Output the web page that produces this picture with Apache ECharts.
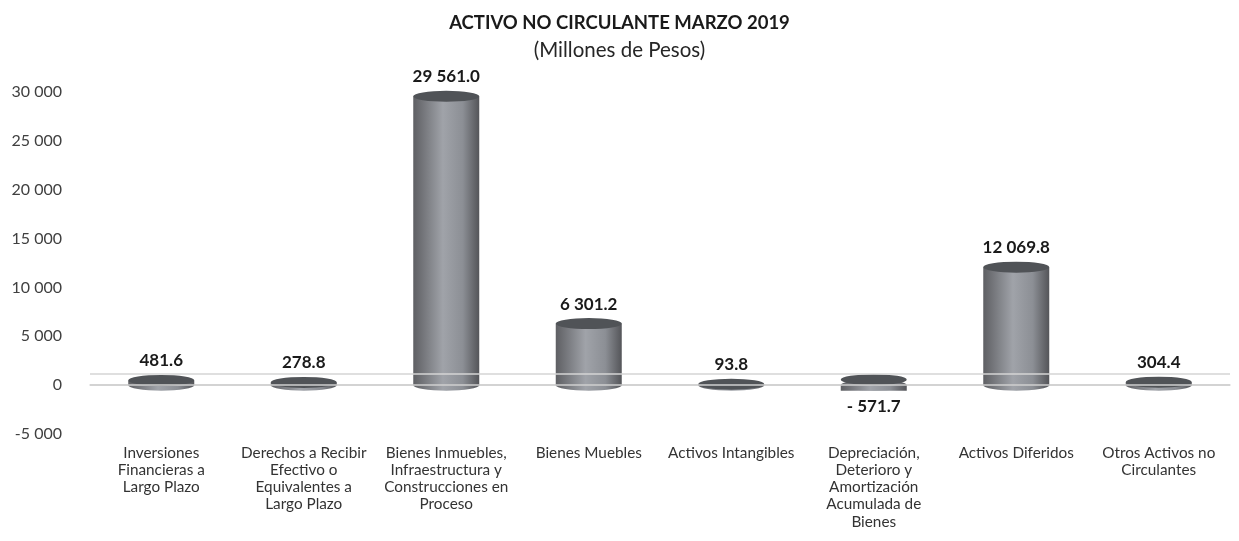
<!DOCTYPE html>
<html>
<head>
<meta charset="utf-8">
<script src="https://cdn.jsdelivr.net/npm/echarts@6/dist/echarts.min.js"></script>
<style>
  html, body { margin: 0; padding: 0; background: #fff; }
  #chart { width: 1239px; height: 541px; }
</style>
</head>
<body>
<div id="chart"></div>
<script>
// datos
var categorias = [
  'Inversiones\nFinancieras a\nLargo Plazo',
  'Derechos a Recibir\nEfectivo o\nEquivalentes a\nLargo Plazo',
  'Bienes Inmuebles,\nInfraestructura y\nConstrucciones en\nProceso',
  'Bienes Muebles',
  'Activos Intangibles',
  'Depreciación,\nDeterioro y\nAmortización\nAcumulada de\nBienes',
  'Activos Diferidos',
  'Otros Activos no\nCirculantes'
];
var valores = [481.6, 278.8, 29561.0, 6301.2, 93.8, -571.7, 12069.8, 304.4];
var ceros = [0, 0, 0, 0, 0, 0, 0, 0];

var fuente = 'Lato';

function miles(v) {
  var s = Math.abs(v).toFixed(0).replace(/\B(?=(\d{3})+(?!\d))/g, ' ');
  return (v < 0 ? '-' : '') + s;
}
function etiqueta(v) {
  var p = Math.abs(v).toFixed(1).split('.');
  var s = p[0].replace(/\B(?=(\d{3})+(?!\d))/g, ' ') + '.' + p[1];
  return (v < 0 ? '- ' : '') + s;
}

var lado = {
  type: 'linear', x: 0, y: 0, x2: 1, y2: 0,
  colorStops: [
    { offset: 0, color: '#5e5f63' },
    { offset: 0.45, color: '#a0a3a9' },
    { offset: 0.75, color: '#8c8f95' },
    { offset: 1, color: '#545559' }
  ]
};

var barData = valores.map(function (v) {
  return {
    value: v,
    label: {
      show: true,
      position: v < 0 ? 'bottom' : 'top',
      distance: v < 0 ? 7 : 11,
      formatter: function (p) { return etiqueta(p.value); }
    }
  };
});

var myChart = echarts.init(document.querySelector('#chart'));

var option = {
  animation: false,
  title: [
    {
      text: 'ACTIVO NO CIRCULANTE MARZO 2019',
      left: 'center',
      top: 9,
      textStyle: { fontFamily: fuente, fontWeight: 'bold', fontSize: 18.5, color: '#1a1a1a' }
    },
    {
      text: '(Millones de Pesos)',
      left: 'center',
      top: 35,
      textStyle: { fontFamily: fuente, fontWeight: 'normal', fontSize: 20.5, color: '#262626' }
    }
  ],
  grid: { left: 90, right: 9, top: 92, bottom: 107 },
  xAxis: {
    type: 'category',
    data: categorias,
    axisTick: { show: false },
    axisLine: { show: true, lineStyle: { color: '#d4d4d4', width: 1.5 } },
    axisLabel: {
      interval: 0,
      margin: 10,
      fontFamily: fuente,
      fontSize: 15.3,
      lineHeight: 17.3,
      color: '#333'
    }
  },
  yAxis: [
    {
      type: 'value',
      min: -5000,
      max: 30000,
      interval: 5000,
      axisLine: { show: false },
      axisTick: { show: false },
      splitLine: { show: false },
      axisLabel: {
        margin: 28,
        fontFamily: fuente,
        fontSize: 16,
        color: '#404040',
        formatter: function (v) { return miles(v); }
      }
    },
    {
      // eje oculto para la linea del fondo (efecto 3D)
      type: 'value',
      min: -6130,
      max: 28870,
      show: false
    }
  ],
  series: [
    {
      type: 'line',
      yAxisIndex: 1,
      data: [],
      markLine: {
        silent: true,
        symbol: 'none',
        label: { show: false },
        lineStyle: { color: '#d4d4d4', type: 'solid', width: 1.5 },
        data: [{ yAxis: 0 }]
      }
    },
    {
      type: 'bar',
      data: barData,
      barWidth: 66,
      itemStyle: { color: lado },
      label: {
        fontFamily: fuente,
        fontWeight: 'bold',
        fontSize: 17,
        color: '#1a1a1a'
      },
      markLine: {
        silent: true,
        symbol: 'none',
        label: { show: false },
        lineStyle: { color: '#cfcfcf', type: 'solid', width: 1.5 },
        data: [{ yAxis: 0 }]
      },
      z: 2
    },
    {
      // base del cilindro
      type: 'pictorialBar',
      data: ceros,
      symbol: 'circle',
      symbolSize: [66, 11],
      symbolOffset: [0, '50%'],
      itemStyle: { color: lado },
      z: 1
    },
    {
      // tapa del cilindro
      type: 'pictorialBar',
      data: valores,
      symbol: 'circle',
      symbolSize: [66, 11],
      symbolPosition: 'end',
      symbolOffset: [0, '-50%'],
      itemStyle: { color: '#505357' },
      z: 3
    }
  ]
};

myChart.setOption(option);
window.addEventListener('resize', function () {
  myChart.resize();
});
</script>
</body>
</html>
